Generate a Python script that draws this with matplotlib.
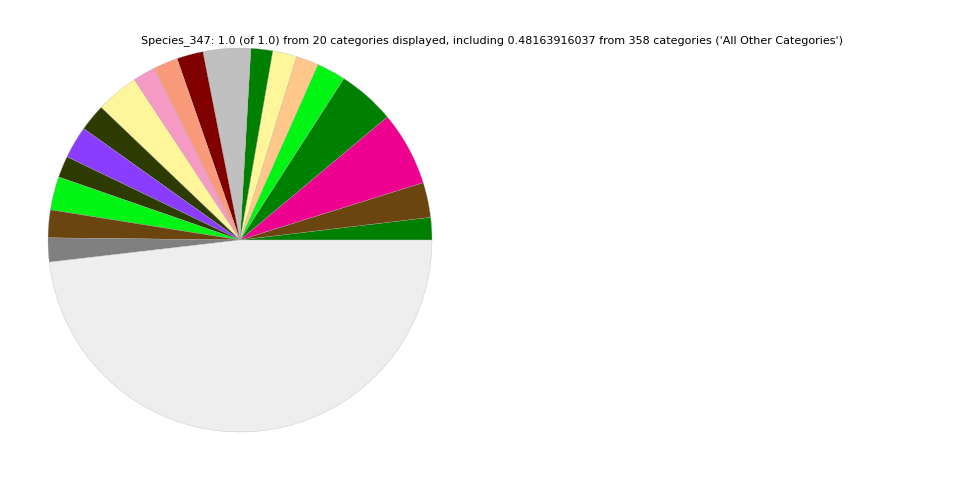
import matplotlib
matplotlib.use('Agg')
import matplotlib.pyplot as plt

# slice fractions, counter-clockwise from 3 o'clock
fractions = [0.0189, 0.0294, 0.0625, 0.0483, 0.0244, 0.0189, 0.0203, 0.0183, 0.0400, 0.0222,
             0.0208, 0.0189, 0.0358, 0.0228, 0.0272, 0.0181, 0.0281, 0.0233, 0.0202, 0.48163916037]
colors = ['#008000', '#6b4510', '#ee0090', '#008000', '#00f514', '#ffc88a', '#fff59a', '#008000',
          '#c0c0c0', '#800000', '#f99a7a', '#f49ac4', '#fff59a', '#2e3b00', '#8b3dff', '#2e3b00',
          '#00f514', '#6b4510', '#808080', '#eeeeee']
title = "Species_347: 1.0 (of 1.0) from 20 categories displayed, including 0.48163916037 from 358 categories ('All Other Categories')"

fig = plt.figure(figsize=(9.6, 4.8), dpi=100)
ax = fig.add_axes([48 / 960, 0.1, 384 / 960, 0.8])
ax.pie(fractions, colors=colors, startangle=0, counterclock=True,
       wedgeprops={'edgecolor': '#aaaaaa', 'linewidth': 0.2})
ax.set_aspect('equal')
ax.set_xlim(-1, 1)
ax.set_ylim(-1, 1)
fig.text(0.5125, 1 - 43 / 480, title, ha='center', va='baseline', fontsize=8)
fig.savefig('out.png', dpi=100)
